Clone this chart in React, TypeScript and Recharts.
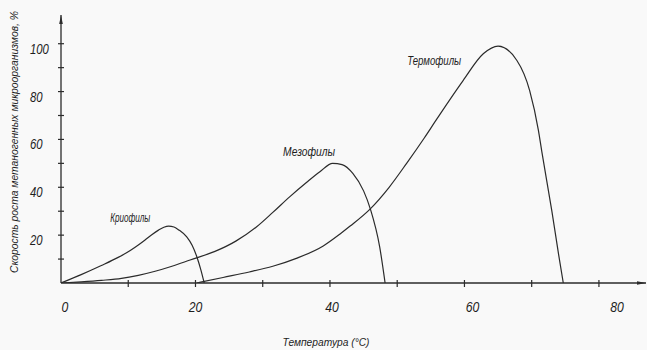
import React from 'react';
import { LineChart, Line, XAxis, YAxis, ReferenceDot } from 'recharts';

// Growth curves of methanogenic microorganisms: temperature (°C) -> relative rate (%)
const cryoTemp = [0, 3, 6, 8.5, 10.3, 11.5, 12.5, 13.5, 14.5, 15.3, 16, 16.8, 17.6, 18.7, 19.5, 20.2, 20.8, 21.3];
const cryoRate = [0, 3.5, 7.3, 10.7, 13.6, 15.9, 18, 20.2, 22.1, 23.3, 23.8, 23.4, 22, 19.3, 15.8, 11, 5.5, 0];

const mesoTemp = [0, 3, 6, 9, 11.5, 14, 16.5, 19.2, 22.9, 26, 29.1, 31.5, 34, 36.5, 38.5, 40.4, 41.8, 43.4, 45, 46, 47.4, 48.2];
const mesoRate = [0, 0.5, 1.1, 1.9, 3.2, 4.9, 7, 9.6, 13.2, 17.5, 23.5, 29.5, 36, 42, 46.5, 50, 49.5, 45.8, 38.5, 31, 15, 0];

const thermoTemp = [20.2, 24.1, 28, 31.5, 35, 39, 41.5, 43, 46, 48.8, 51.4, 54, 56, 59.8, 62.8, 65, 67.8, 69.7, 71, 71.5, 73, 74, 74.7];
const thermoRate = [0, 2.3, 4.6, 7, 10.3, 15.5, 20.5, 23.8, 31, 40, 50, 60.5, 69, 84.6, 95.8, 99, 93, 80.4, 63.8, 55, 30, 12, 0];

const xTicks = [0, 10, 20, 30, 40, 50, 60, 70, 80];
const yTicks = [10, 20, 30, 40, 50, 60, 70, 80, 90, 100];

const seriesNames = ['Криофилы', 'Мезофилы', 'Термофилы'];
// where each curve's name is written, in chart units (temperature, rate)
const nameAnchors = [
  { t: 10.3, r: 27.2 },
  { t: 36.9, r: 54.7 },
  { t: 55.5, r: 92.8 },
];

const xTitle = 'Температура (°C)';
const yTitle = 'Скорость роста метаногенных микроорганизмов, %';

const toPoints = (temps: number[], rates: number[]) =>
  temps.map((t, i) => ({ t, rate: rates[i] }));

const INK = '#2b2b2b';
const FONT = '"Liberation Sans", Arial, sans-serif';

const textStyle = {
  fontFamily: FONT,
  fontStyle: 'italic' as const,
  fill: '#1e1e1e',
};

// small hand-lettered drift of the x labels
const xLabelNudge: Record<number, number> = { 0: 4, 20: 0, 40: 2, 60: 8, 80: 18 };

const XTick = (props: any) => {
  const { x, y, payload } = props;
  const v = payload.value as number;
  const s = String(v);
  return (
    <g>
      {v !== 0 && <line x1={x} x2={x} y1={y - 3} y2={y + 4} stroke={INK} strokeWidth={1.2} />}
      {v % 20 === 0 && (
        <text
          x={x + (xLabelNudge[v] ?? 0)}
          y={y + 29}
          textAnchor="middle"
          fontSize={14}
          textLength={s.length * 6.8}
          lengthAdjust="spacingAndGlyphs"
          style={textStyle}
        >
          {s}
        </text>
      )}
    </g>
  );
};

const YTick = (props: any) => {
  const { x, y, payload } = props;
  const v = payload.value as number;
  const s = String(v);
  return (
    <g>
      <line x1={x - 3} x2={x + 3} y1={y} y2={y} stroke={INK} strokeWidth={1.2} />
      {v % 20 === 0 && (
        <text
          x={x - 31}
          y={y + 10}
          textAnchor="start"
          fontSize={14}
          textLength={s.length * 6.3}
          lengthAdjust="spacingAndGlyphs"
          style={textStyle}
        >
          {s}
        </text>
      )}
    </g>
  );
};

const nameLabel = (name: string, len: number) => (props: any) => {
  const vb = props.viewBox || {};
  const cx = (vb.x ?? 0) + (vb.width ?? 0) / 2;
  const cy = (vb.y ?? 0) + (vb.height ?? 0) / 2;
  return (
    <text
      x={cx}
      y={cy}
      dy="0.35em"
      textAnchor="middle"
      fontSize={12}
      textLength={len}
      lengthAdjust="spacingAndGlyphs"
      style={textStyle}
    >
      {name}
    </text>
  );
};

const nameLengths = [40, 52, 54];

const xTitleContent = () => (
  <text
    x={326}
    y={342}
    dy="0.35em"
    textAnchor="middle"
    fontSize={11.5}
    textLength={87}
    lengthAdjust="spacingAndGlyphs"
    style={textStyle}
  >
    {xTitle}
  </text>
);

const yTitleContent = () => (
  <text
    transform="translate(14,142) rotate(-90)"
    x={0}
    y={0}
    dy="0.35em"
    textAnchor="middle"
    fontSize={10.5}
    textLength={262}
    lengthAdjust="spacingAndGlyphs"
    style={textStyle}
  >
    {yTitle}
  </text>
);

export default function App() {
  const series = [
    toPoints(cryoTemp, cryoRate),
    toPoints(mesoTemp, mesoRate),
    toPoints(thermoTemp, thermoRate),
  ];
  return (
    <div
      style={{
        position: 'absolute',
        left: 0,
        top: 0,
        width: 647,
        height: 350,
        background: '#f9f9f9',
      }}
    >
      <LineChart
        width={647}
        height={350}
        margin={{ top: 15, right: 1, left: 0, bottom: 0 }}
      >
        <defs>
          <marker
            id="axisArrow"
            viewBox="0 0 10 4"
            refX={10}
            refY={2}
            markerWidth={9}
            markerHeight={3.6}
            markerUnits="userSpaceOnUse"
            orient="auto-start-reverse"
          >
            <path d="M0,0 L10,2 L0,4 Z" fill={INK} />
          </marker>
        </defs>
        <XAxis
          type="number"
          dataKey="t"
          domain={[0, 87]}
          ticks={xTicks}
          interval={0}
          height={67}
          tickSize={0}
          tickMargin={0}
          tickLine={false}
          tick={<XTick />}
          axisLine={{ stroke: INK, strokeWidth: 1.3, markerEnd: 'url(#axisArrow)' }}
          allowDataOverflow
          label={{ content: xTitleContent }}
        />
        <YAxis
          type="number"
          dataKey="rate"
          domain={[0, 112]}
          ticks={yTicks}
          interval={0}
          width={61}
          tickSize={0}
          tickMargin={0}
          tickLine={false}
          tick={<YTick />}
          axisLine={{ stroke: INK, strokeWidth: 1.3, markerStart: 'url(#axisArrow)' }}
          allowDataOverflow
          label={{ content: yTitleContent }}
        />
        {series.map((data, i) => (
          <Line
            key={seriesNames[i]}
            name={seriesNames[i]}
            data={data}
            dataKey="rate"
            type="monotone"
            stroke={INK}
            strokeWidth={1.2}
            dot={false}
            activeDot={false}
            isAnimationActive={false}
          />
        ))}
        {nameAnchors.map((a, i) => (
          <ReferenceDot
            key={'name-' + i}
            x={a.t}
            y={a.r}
            r={0}
            fill="none"
            stroke="none"
            label={{ content: nameLabel(seriesNames[i], nameLengths[i]) }}
          />
        ))}
      </LineChart>
    </div>
  );
}
